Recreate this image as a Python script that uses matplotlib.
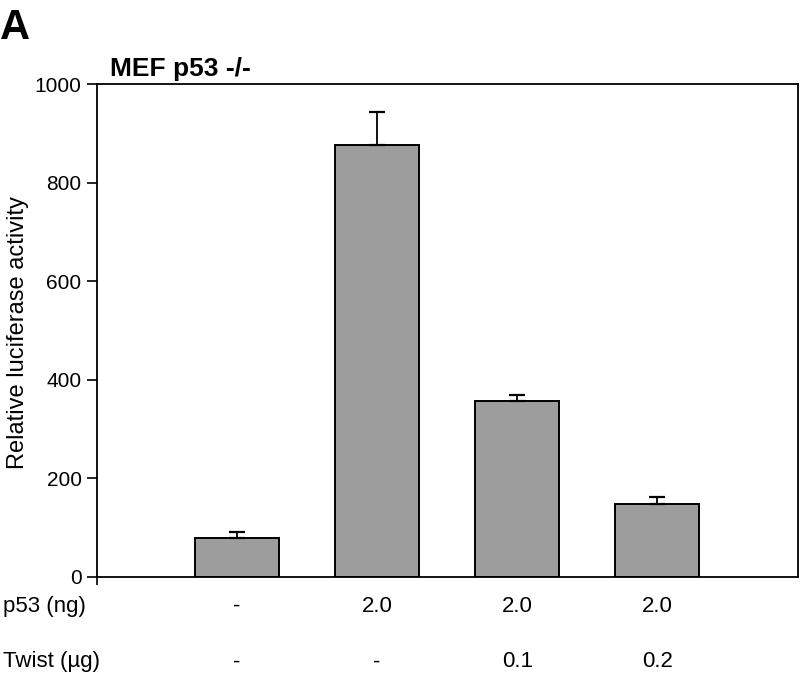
import matplotlib.pyplot as plt
import matplotlib.transforms as mtransforms

plt.rcParams['font.family'] = ['Liberation Sans', 'DejaVu Sans']

# valores
condicoes = ['ctrl', 'p53', 'p53+T0.1', 'p53+T0.2']
atividade = [80, 877, 357, 149]
erro = [12, 66, 13, 14]
p53_ng = ['-', '2.0', '2.0', '2.0']
twist_ug = ['-', '-', '0.1', '0.2']
yticks = [0, 200, 400, 600, 800, 1000]

fig = plt.figure(figsize=(8, 6.78), dpi=100)
ax = fig.add_axes([0.121, 0.149, 0.876, 0.727])

x = list(range(len(condicoes)))
ax.bar(x, atividade, width=0.6, color='#9d9d9d', edgecolor='black', linewidth=1.4,
       zorder=2)
ax.errorbar(x, atividade, yerr=[[0] * len(erro), erro], fmt='none', ecolor='black',
            elinewidth=1.3, capsize=5.5, capthick=1.6, zorder=3)

ax.set_xlim(-1, 4)
ax.set_ylim(0, 1000)
ax.set_yticks(yticks)
ax.set_xticks([-1])
ax.set_xticklabels([''])
ax.tick_params(axis='y', direction='out', length=7, width=1.2, labelsize=15, pad=4)
ax.tick_params(axis='x', direction='out', length=6, width=1.2)
for s in ax.spines.values():
    s.set_linewidth(1.3)

# rótulo do eixo y posicionado na figura
fig.text(0.023, 0.51, 'Relative luciferase activity', fontsize=17, rotation=90,
         va='center', ha='center')

fig.text(0.0, 0.988, 'A', fontsize=30, fontweight='bold', va='top', ha='left')
fig.text(0.138, 0.88, 'MEF p53 -/-', fontsize=19, fontweight='bold', va='bottom',
         ha='left')

# linhas de condições abaixo do eixo
trans = mtransforms.blended_transform_factory(ax.transData, fig.transFigure)
fig.text(0.004, 0.106, 'p53 (ng)', fontsize=16, va='center', ha='left')
fig.text(0.004, 0.024, 'Twist (\u00b5g)', fontsize=16, va='center', ha='left')
for xi, a, b in zip(x, p53_ng, twist_ug):
    ax.text(xi, 0.106, a, transform=trans, fontsize=16, va='center', ha='center')
    ax.text(xi, 0.024, b, transform=trans, fontsize=16, va='center', ha='center')

fig.savefig('out.png', dpi=100)
